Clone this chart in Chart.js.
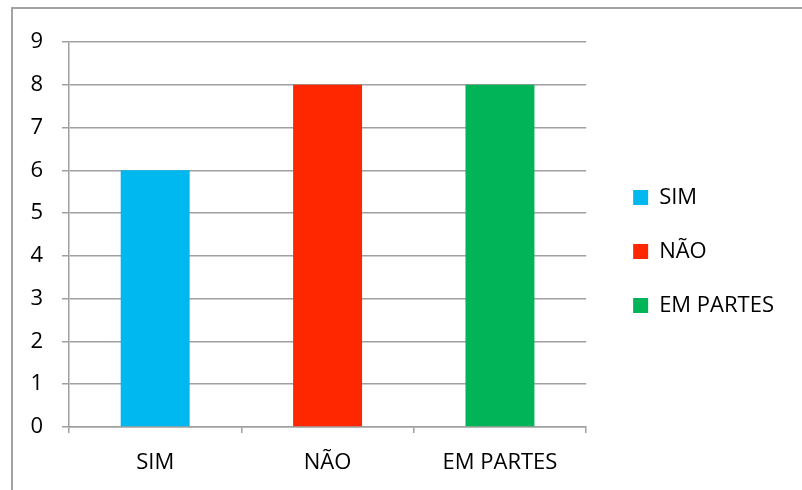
<!DOCTYPE html>
<html>
<head>
<meta charset="utf-8">
<script src="https://cdn.jsdelivr.net/npm/chart.js@4"></script>
<style>
  html, body { margin: 0; padding: 0; background: #fff; }
  #wrap { position: relative; width: 802px; height: 490px; overflow: hidden; }
  #moldura { position: absolute; left: 11px; top: 7px; width: 900px; height: 600px;
             border-left: 2px solid #a3a3a3; border-top: 2px solid #a3a3a3; }
  canvas { position: absolute; left: 0; top: 0; }
</style>
</head>
<body>
<div id="wrap">
  <div id="moldura"></div>
  <canvas id="grafico" width="802" height="490"></canvas>
</div>
<script>
// Categorias e valores
const categorias = ["SIM", "NÃO", "EM PARTES"]
const valores = [6, 8, 8]
const cores = ["#00B8F0", "#FF2700", "#00B457"]

const fonte = { family: "'Open Sans', 'Liberation Sans', sans-serif", size: 22 }
const cinza = "#a0a0a0"

const ctx = document.getElementById("grafico").getContext("2d")
new Chart(ctx, {
    type: "bar",
    data: {
        labels: categorias,
        datasets: [{
            data: valores,
            backgroundColor: cores,
            borderWidth: 0,
            categoryPercentage: 1,
            barPercentage: 0.4
        }]
    },
    options: {
        responsive: false,
        animation: false,
        layout: { padding: { left: 12, top: 42, right: 18, bottom: 16 } },
        plugins: {
            tooltip: { enabled: false },
            legend: {
                position: "right",
                fullSize: false,
                maxWidth: 400, // deixa a legenda com a largura natural
                // título vazio só para descer os itens da legenda
                title: { display: true, text: "", font: { size: 10 }, padding: 11 },
                labels: {
                    boxWidth: 15,
                    boxHeight: 15,
                    padding: 32,
                    color: "#000",
                    font: fonte,
                    // uma entrada por categoria, como no Excel
                    generateLabels: () => categorias.map((c, i) => ({
                        text: c,
                        fillStyle: cores[i],
                        strokeStyle: cores[i],
                        fontColor: "#000",
                        lineWidth: 0,
                        hidden: false,
                        index: i,
                        datasetIndex: 0
                    }))
                }
            }
        },
        scales: {
            x: {
                grid: {
                    offset: true,
                    drawOnChartArea: false,
                    drawTicks: true,
                    tickLength: 6,
                    color: cinza,
                    lineWidth: 1.5
                },
                border: { color: cinza, width: 1.5 },
                ticks: { color: "#000", font: fonte, padding: 17 },
                afterFit: s => { s.height = 47 }
            },
            y: {
                min: 0,
                max: 9,
                ticks: { stepSize: 1, color: "#000", font: fonte, padding: 19 },
                grid: { color: cinza, lineWidth: 1.5, tickLength: 7 },
                border: { color: cinza, width: 1.5 },
                afterFit: s => { s.width = 57 }
            },
            // eixo vazio só para afastar a legenda da área do gráfico
            y2: {
                position: "right",
                display: true,
                grid: { drawOnChartArea: false, drawTicks: false },
                border: { display: false },
                ticks: { display: false },
                afterFit: s => { s.width = 15 }
            }
        }
    }
})
</script>
</body>
</html>
